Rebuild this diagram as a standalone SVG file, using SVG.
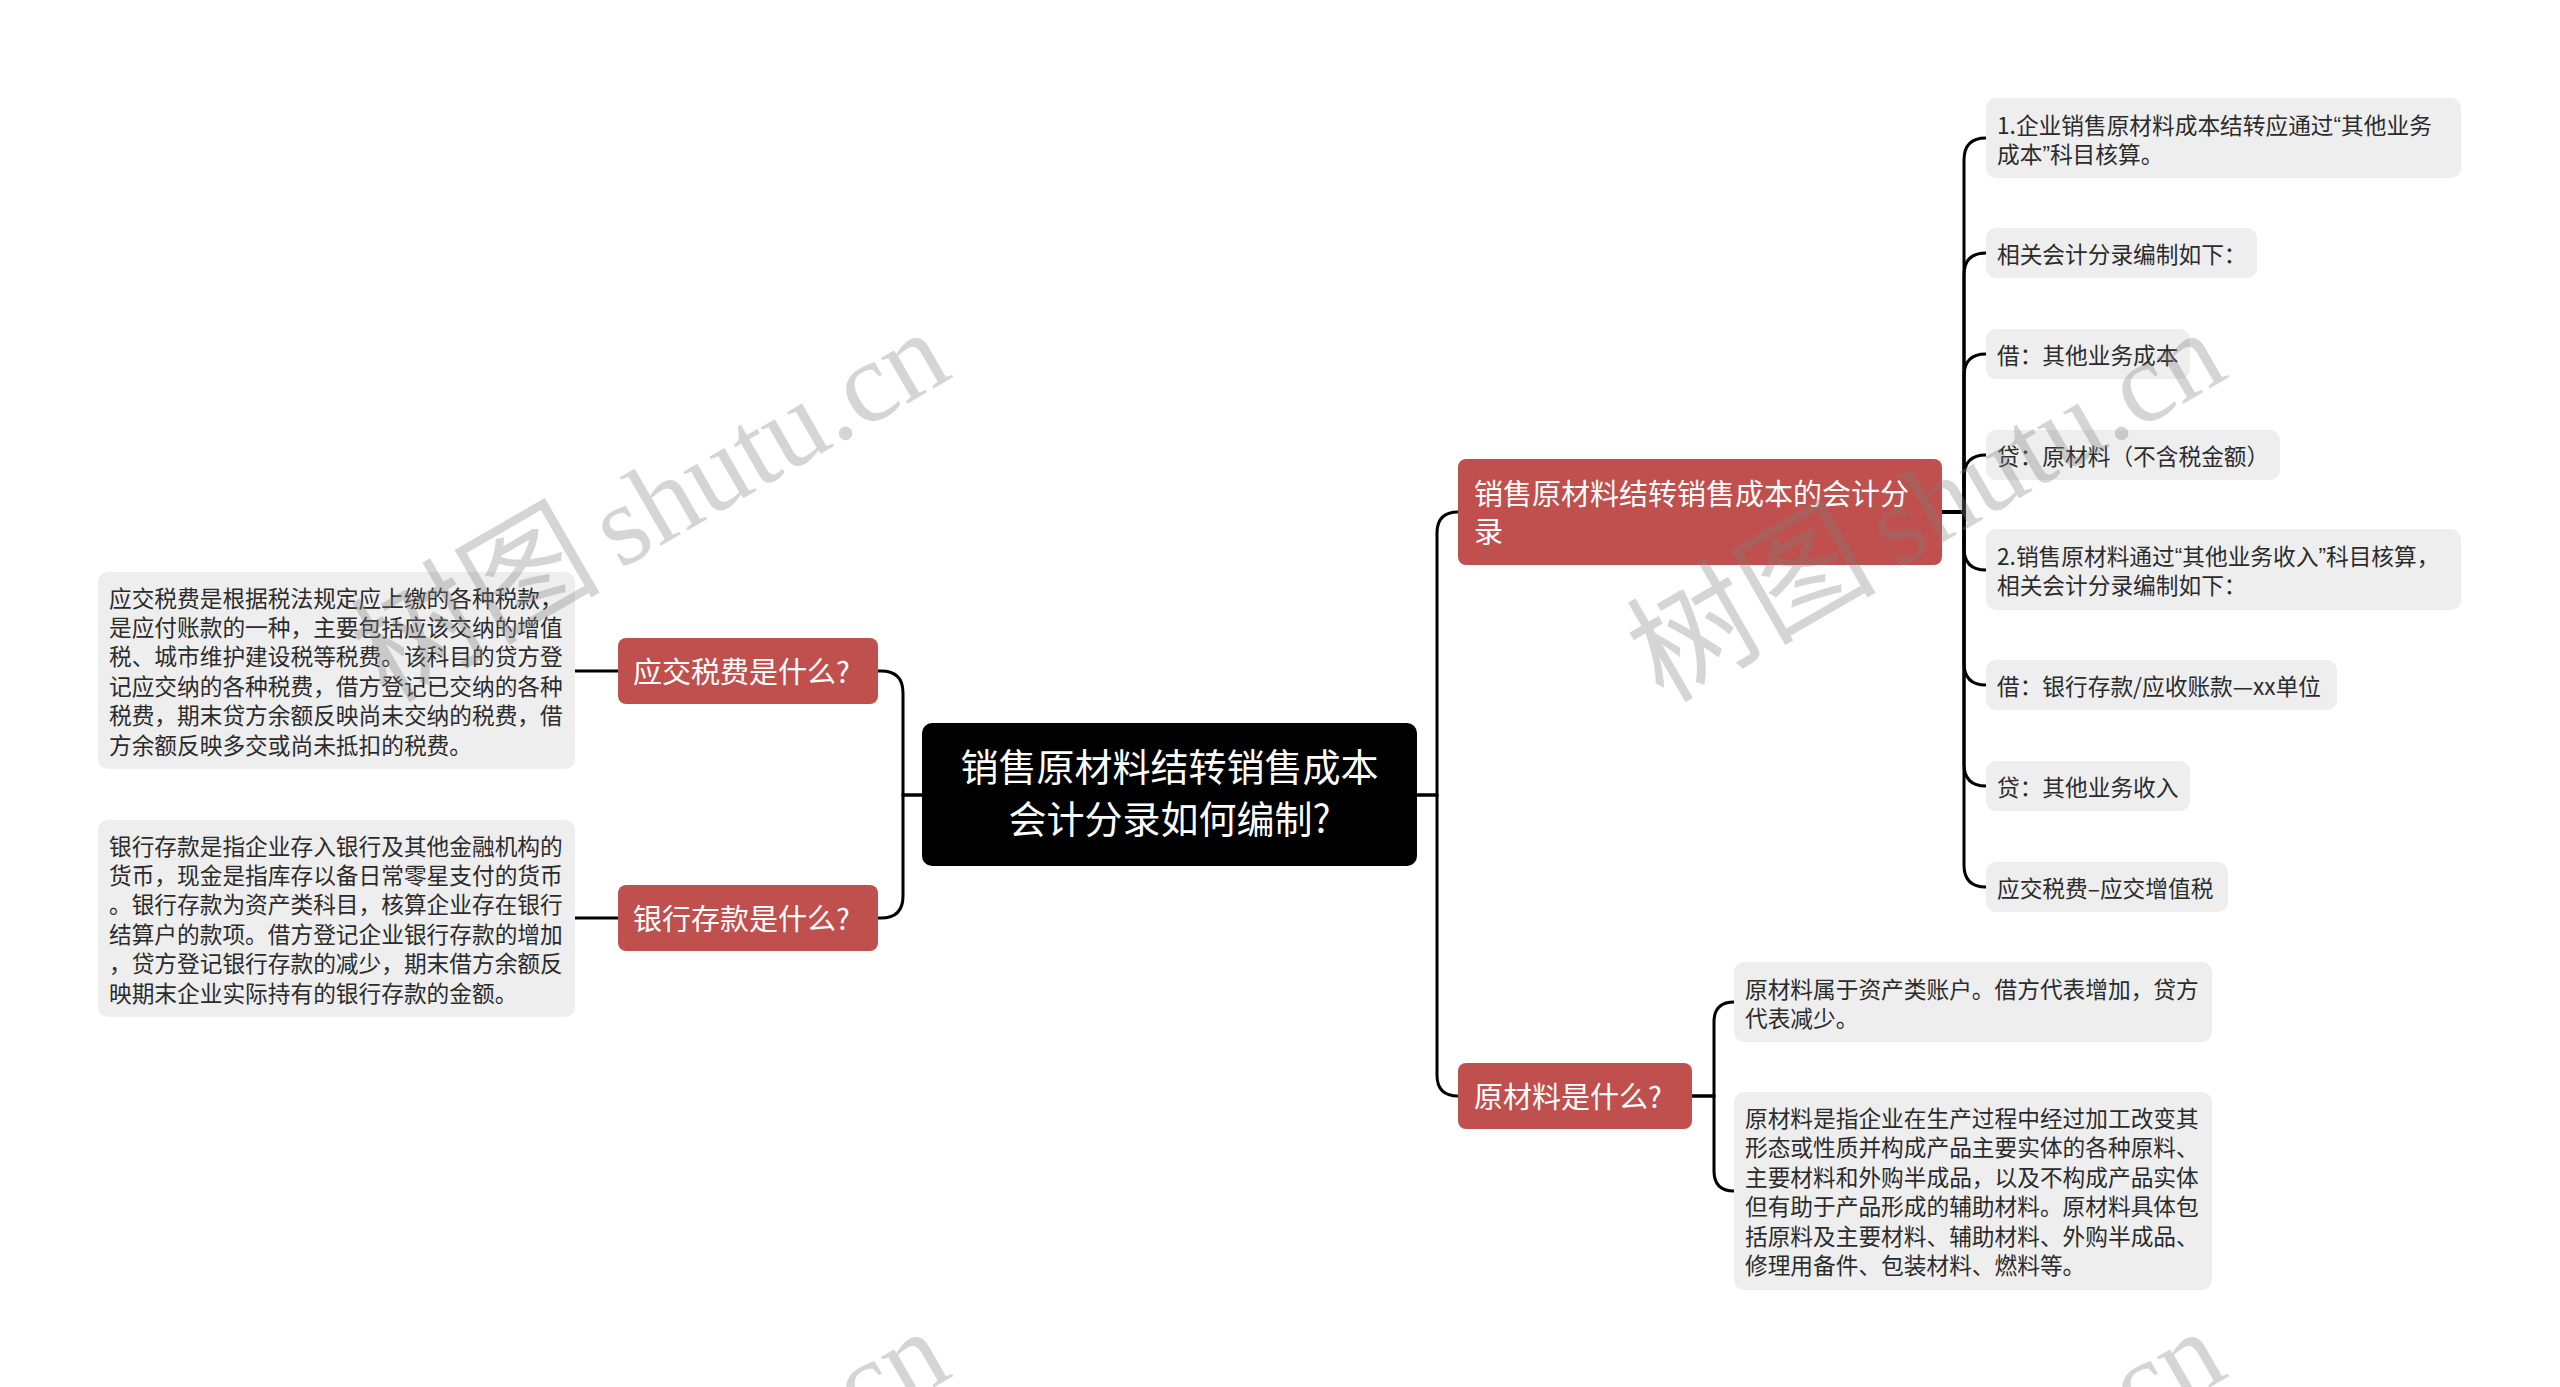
<svg xmlns="http://www.w3.org/2000/svg" width="2560" height="1387" viewBox="0 0 2560 1387">
<style>
text{font-family:"Noto Sans CJK SC","Noto Sans",sans-serif;dominant-baseline:central}
.q{font-family:"Liberation Sans","Noto Sans CJK SC",sans-serif}
.leaf rect{fill:#eeeeee}
.leaf text{font-size:22.7px;fill:#2b2b2b}
.main rect{fill:#c0504d}
.main text{font-size:29px;fill:#ffffff}
.root rect{fill:#000000}
.root text{font-size:38px;fill:#ffffff;text-anchor:middle}
#connectors path{stroke:#000;stroke-width:3;fill:none}
.wm{font-family:"Liberation Serif","Noto Sans CJK SC",serif;font-size:125px;fill:#808080;fill-opacity:0.33;dominant-baseline:alphabetic}
.wm tspan{font-size:115px}
</style>
<rect width="2560" height="1387" fill="#ffffff"/>
<g id="connectors">
<path d="M922 795 H903 V693 Q903 671 881 671 H878"/>
<path d="M922 795 H903 V896 Q903 918 881 918 H878"/>
<path d="M618 671 H574"/>
<path d="M618 918 H574"/>
<path d="M1417 795 H1437 V533 Q1437 512 1458 512"/>
<path d="M1417 795 H1437 V1075 Q1437 1096 1458 1096"/>
<path d="M1942 512 H1964 V160 Q1964 138 1986 138"/>
<path d="M1942 512 H1964 V275 Q1964 253 1986 253"/>
<path d="M1942 512 H1964 V376 Q1964 354 1986 354"/>
<path d="M1942 512 H1964 V477 Q1964 455 1986 455"/>
<path d="M1942 512 H1964 V548 Q1964 570 1986 570"/>
<path d="M1942 512 H1964 V663 Q1964 685 1986 685"/>
<path d="M1942 512 H1964 V764 Q1964 786 1986 786"/>
<path d="M1942 512 H1964 V865 Q1964 887 1986 887"/>
<path d="M1692 1096 H1714 V1022 Q1714 1002 1734 1002"/>
<path d="M1692 1096 H1714 V1171 Q1714 1191 1734 1191"/>
</g>
<g id="root" class="root">
<rect x="922" y="723" width="495" height="143" rx="10"/>
<text x="1169.5" y="764">销售原材料结转销售成本</text>
<text x="1169.5" y="816">会计分录如何编制?</text>
</g>
<g id="tax" class="main">
<rect x="618" y="638" width="260" height="66" rx="8"/>
<text x="633" y="670">应交税费是什么?</text>
</g>
<g id="bank" class="main">
<rect x="618" y="885" width="260" height="66" rx="8"/>
<text x="633" y="917">银行存款是什么?</text>
</g>
<g id="tax-desc" class="leaf">
<rect x="98" y="572" width="477" height="197" rx="10"/>
<text x="109" y="597">应交税费是根据税法规定应上缴的各种税款，</text>
<text x="109" y="626.4">是应付账款的一种，主要包括应该交纳的增值</text>
<text x="109" y="655.8">税、城市维护建设税等税费。该科目的贷方登</text>
<text x="109" y="685.2">记应交纳的各种税费，借方登记已交纳的各种</text>
<text x="109" y="714.6">税费，期末贷方余额反映尚未交纳的税费，借</text>
<text x="109" y="744">方余额反映多交或尚未抵扣的税费。</text>
</g>
<g id="bank-desc" class="leaf">
<rect x="98" y="820" width="477" height="197" rx="10"/>
<text x="109" y="845">银行存款是指企业存入银行及其他金融机构的</text>
<text x="109" y="874.4">货币，现金是指库存以备日常零星支付的货币</text>
<text x="109" y="903.8">。银行存款为资产类科目，核算企业存在银行</text>
<text x="109" y="933.2">结算户的款项。借方登记企业银行存款的增加</text>
<text x="109" y="962.6">，贷方登记银行存款的减少，期末借方余额反</text>
<text x="109" y="992">映期末企业实际持有的银行存款的金额。</text>
</g>
<g id="entry" class="main">
<rect x="1458" y="459" width="484" height="106" rx="8"/>
<text x="1474" y="492">销售原材料结转销售成本的会计分</text>
<text x="1474" y="530">录</text>
</g>
<g id="material" class="main">
<rect x="1458" y="1063" width="234" height="66" rx="8"/>
<text x="1474" y="1095">原材料是什么?</text>
</g>
<g id="r1" class="leaf">
<rect x="1986" y="98" width="475" height="80" rx="10"/>
<text x="1997" y="124">1.企业销售原材料成本结转应通过<tspan class="q">“</tspan>其他业务</text>
<text x="1997" y="153">成本<tspan class="q">”</tspan>科目核算。</text>
</g>
<g id="r2" class="leaf">
<rect x="1986" y="228" width="271" height="50" rx="10"/>
<text x="1997" y="253">相关会计分录编制如下：</text>
</g>
<g id="r3" class="leaf">
<rect x="1986" y="329" width="204" height="50" rx="10"/>
<text x="1997" y="354">借：其他业务成本</text>
</g>
<g id="r4" class="leaf">
<rect x="1986" y="430" width="294" height="50" rx="10"/>
<text x="1997" y="455">贷：原材料（不含税金额）</text>
</g>
<g id="r5" class="leaf">
<rect x="1986" y="529" width="475" height="81" rx="10"/>
<text x="1997" y="555">2.销售原材料通过<tspan class="q">“</tspan>其他业务收入<tspan class="q">”</tspan>科目核算，</text>
<text x="1997" y="584">相关会计分录编制如下：</text>
</g>
<g id="r6" class="leaf">
<rect x="1986" y="660" width="351" height="50" rx="10"/>
<text x="1997" y="685">借：银行存款/应收账款—xx单位</text>
</g>
<g id="r7" class="leaf">
<rect x="1986" y="761" width="204" height="50" rx="10"/>
<text x="1997" y="786">贷：其他业务收入</text>
</g>
<g id="r8" class="leaf">
<rect x="1986" y="862" width="242" height="50" rx="10"/>
<text x="1997" y="887">应交税费–应交增值税</text>
</g>
<g id="m1" class="leaf">
<rect x="1734" y="962" width="478" height="80" rx="10"/>
<text x="1745" y="988">原材料属于资产类账户。借方代表增加，贷方</text>
<text x="1745" y="1017">代表减少。</text>
</g>
<g id="m2" class="leaf">
<rect x="1734" y="1092" width="478" height="198" rx="10"/>
<text x="1745" y="1117.5">原材料是指企业在生产过程中经过加工改变其</text>
<text x="1745" y="1146.9">形态或性质并构成产品主要实体的各种原料、</text>
<text x="1745" y="1176.3">主要材料和外购半成品，以及不构成产品实体</text>
<text x="1745" y="1205.7">但有助于产品形成的辅助材料。原材料具体包</text>
<text x="1745" y="1235.1">括原料及主要材料、辅助材料、外购半成品、</text>
<text x="1745" y="1264.5">修理用备件、包装材料、燃料等。</text>
</g>
<g id="watermarks">
<text class="wm" transform="translate(387 704) rotate(-30)">树图<tspan dx="19">shutu.cn</tspan></text>
<text class="wm" transform="translate(1663 704) rotate(-30)">树图<tspan dx="19">shutu.cn</tspan></text>
<text class="wm" transform="translate(387 1703) rotate(-30)">树图<tspan dx="19">shutu.cn</tspan></text>
<text class="wm" transform="translate(1663 1703) rotate(-30)">树图<tspan dx="19">shutu.cn</tspan></text>
</g>
</svg>
